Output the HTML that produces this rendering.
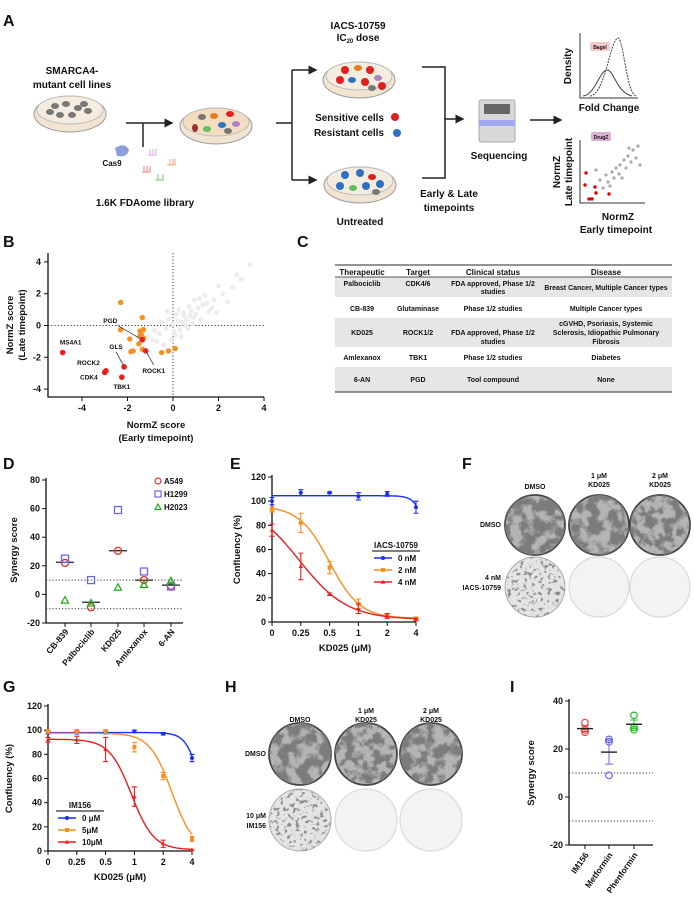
<!DOCTYPE html>
<html><head><meta charset="utf-8"><style>
html,body{margin:0;padding:0;background:#fff;}
svg{display:block;font-family:"Liberation Sans",Arial,sans-serif;}
text{font-weight:bold;fill:#111;}
</style></head><body>
<svg id="fig" width="694" height="899" viewBox="0 0 694 899" xmlns="http://www.w3.org/2000/svg">
<defs>
<filter id="dense" x="0" y="0" width="1" height="1"><feTurbulence type="fractalNoise" baseFrequency="0.09" numOctaves="3" seed="2"/><feColorMatrix type="matrix" values="0 0 0 0 0.2 0 0 0 0 0.2 0 0 0 0 0.2 5 0 0 0 -1.9"/></filter>
<filter id="dense2" x="0" y="0" width="1" height="1"><feTurbulence type="fractalNoise" baseFrequency="0.11" numOctaves="3" seed="7"/><feColorMatrix type="matrix" values="0 0 0 0 0.2 0 0 0 0 0.2 0 0 0 0 0.2 5 0 0 0 -2.1"/></filter>
<filter id="sparse" x="0" y="0" width="1" height="1"><feTurbulence type="fractalNoise" baseFrequency="0.25" numOctaves="2" seed="5"/><feColorMatrix type="matrix" values="0 0 0 0 0.25 0 0 0 0 0.25 0 0 0 0 0.25 6 0 0 0 -3.3"/></filter>
<marker id="arr" markerWidth="6" markerHeight="6" refX="5" refY="3" orient="auto"><path d="M0,0 L6,3 L0,6 z" fill="#222"/></marker>
</defs>

<g font-size="16">
<text x="3" y="26">A</text><text x="3" y="247">B</text><text x="297" y="247">C</text>
<text x="3" y="469">D</text><text x="230" y="469">E</text><text x="462" y="469">F</text>
<text x="3" y="692">G</text><text x="225" y="692">H</text><text x="510" y="692">I</text>
</g>

<g id="panelA" font-size="10">
<text x="72" y="74" text-anchor="middle">SMARCA4-</text>
<text x="72" y="88" text-anchor="middle">mutant cell lines</text>
<g><ellipse cx="70" cy="114" rx="36" ry="18" fill="#f1e4d2" stroke="#999"/><ellipse cx="70" cy="110" rx="33" ry="14" fill="#f5ece0" stroke="#bbb"/>
<g fill="#777"><ellipse cx="55" cy="106" rx="4" ry="3"/><ellipse cx="66" cy="104" rx="4" ry="3"/><ellipse cx="78" cy="108" rx="4" ry="3"/><ellipse cx="88" cy="111" rx="4" ry="3"/><ellipse cx="60" cy="115" rx="4" ry="3"/><ellipse cx="72" cy="115" rx="4" ry="3"/><ellipse cx="84" cy="104" rx="4" ry="3"/><ellipse cx="50" cy="112" rx="4" ry="3"/></g></g>
<line x1="126" y1="123" x2="172" y2="123" stroke="#222" stroke-width="1.5" marker-end="url(#arr)"/>
<line x1="143" y1="123" x2="143" y2="147" stroke="#222" stroke-width="1.5"/>
<path d="M115,148 q10,-6 14,2 q-2,8 -12,6 z" fill="#8c9fd6"/>
<text x="112" y="166" text-anchor="middle" font-size="8">Cas9</text>
<g fill="none" stroke-width="1"><path d="M148,155 h8 v-6 M150,155 v-6 M153,155 v-6" stroke="#d9a0e0"/><path d="M142,172 h8 v-6 M144,172 v-6 M147,172 v-6" stroke="#f08080"/><path d="M167,165 h8 v-6 M170,165 v-6 M173,165 v-6" stroke="#f0a080"/><path d="M155,180 h8 v-6 M158,180 v-6" stroke="#70c070"/></g>
<text x="145" y="206" text-anchor="middle" font-size="10" font-weight="normal">1.6K FDAome library</text>
<g><ellipse cx="216" cy="126" rx="36" ry="18" fill="#f1e4d2" stroke="#999"/><ellipse cx="216" cy="122" rx="33" ry="14" fill="#f3dcc0" stroke="#bbb"/>
<ellipse cx="202" cy="117" rx="4" ry="3" fill="#777"/><ellipse cx="214" cy="116" rx="4" ry="3" fill="#e08020"/><ellipse cx="230" cy="114" rx="4" ry="3" fill="#e02020"/><ellipse cx="195" cy="128" rx="3" ry="4" fill="#a03030"/><ellipse cx="207" cy="129" rx="4" ry="3" fill="#60c060"/><ellipse cx="222" cy="125" rx="4" ry="3" fill="#3070c0"/><ellipse cx="236" cy="124" rx="4" ry="3" fill="#b080c0"/><ellipse cx="228" cy="131" rx="4" ry="3" fill="#777"/></g>
<line x1="276" y1="123" x2="292" y2="123" stroke="#222" stroke-width="1.5"/>
<line x1="292" y1="70" x2="292" y2="180" stroke="#222" stroke-width="1.5"/>
<line x1="292" y1="70" x2="316" y2="70" stroke="#222" stroke-width="1.5" marker-end="url(#arr)"/>
<line x1="292" y1="180" x2="316" y2="180" stroke="#222" stroke-width="1.5" marker-end="url(#arr)"/>
<text x="358" y="29" text-anchor="middle" font-weight="normal" font-size="10">IACS-10759</text>
<text x="358" y="41" text-anchor="middle" font-weight="normal" font-size="10">IC<tspan font-size="6" dy="2">20</tspan><tspan dy="-2"> dose</tspan></text>
<g><ellipse cx="359" cy="80" rx="36" ry="18" fill="#f1e4d2" stroke="#999"/><ellipse cx="359" cy="76" rx="33" ry="14" fill="#f5ece0" stroke="#bbb"/>
<ellipse cx="345" cy="70" rx="4" ry="4" fill="#e02020"/><ellipse cx="358" cy="68" rx="4" ry="3" fill="#e08020"/><ellipse cx="370" cy="70" rx="4" ry="4" fill="#e02020"/><ellipse cx="340" cy="80" rx="4" ry="4" fill="#e02020"/><ellipse cx="352" cy="80" rx="4" ry="3" fill="#3070c0"/><ellipse cx="365" cy="82" rx="4" ry="4" fill="#e02020"/><ellipse cx="378" cy="78" rx="4" ry="3" fill="#b080c0"/><ellipse cx="382" cy="86" rx="4" ry="4" fill="#e02020"/><ellipse cx="372" cy="88" rx="4" ry="3" fill="#777"/></g>
<text x="346" y="121" text-anchor="end" font-size="10" font-weight="normal" transform="translate(38,0)">Sensitive cells</text>
<text x="346" y="136" text-anchor="end" font-size="10" font-weight="normal" transform="translate(38,0)">Resistant cells</text>
<circle cx="395" cy="117" r="4" fill="#e02020"/><circle cx="397" cy="133" r="4" fill="#3070c0"/>
<g><ellipse cx="360" cy="185" rx="36" ry="18" fill="#f1e4d2" stroke="#999"/><ellipse cx="360" cy="181" rx="33" ry="14" fill="#f5ece0" stroke="#bbb"/>
<ellipse cx="345" cy="175" rx="4" ry="4" fill="#3070c0"/><ellipse cx="360" cy="173" rx="4" ry="4" fill="#3070c0"/><ellipse cx="372" cy="177" rx="4" ry="3" fill="#e02020"/><ellipse cx="340" cy="186" rx="4" ry="4" fill="#3070c0"/><ellipse cx="353" cy="188" rx="4" ry="3" fill="#60c060"/><ellipse cx="366" cy="186" rx="4" ry="4" fill="#3070c0"/><ellipse cx="380" cy="184" rx="4" ry="4" fill="#3070c0"/><ellipse cx="376" cy="192" rx="4" ry="3" fill="#777"/></g>
<text x="360" y="225" text-anchor="middle" font-size="10" font-weight="normal">Untreated</text>
<path d="M422,67 H445 V178 H422" fill="none" stroke="#222" stroke-width="1.5"/>
<line x1="445" y1="119" x2="463" y2="119" stroke="#222" stroke-width="1.5" marker-end="url(#arr)"/>
<text x="449" y="197" text-anchor="middle" font-size="10" font-weight="normal">Early &amp; Late</text>
<text x="449" y="211" text-anchor="middle" font-size="10" font-weight="normal">timepoints</text>
<g><rect x="479" y="100" width="36" height="42" rx="2" fill="#d8d8d8" stroke="#aaa"/><rect x="484" y="104" width="26" height="10" fill="#666"/><rect x="479" y="120" width="36" height="6" fill="#a0a8f0"/></g>
<text x="499" y="159" text-anchor="middle" font-size="10" font-weight="normal">Sequencing</text>
<line x1="530" y1="120" x2="561" y2="120" stroke="#222" stroke-width="1.5" marker-end="url(#arr)"/>
<g>
<path d="M580,33 V98 H638" fill="none" stroke="#333"/>
<path d="M583,96 C595,95 600,70 607,70 C614,70 616,92 632,96" fill="none" stroke="#444"/>
<path d="M590,96 C605,95 610,40 618,38 C624,40 626,92 636,96" fill="none" stroke="#444" stroke-dasharray="2,1"/>
<rect x="590" y="42" width="20" height="9" rx="2" fill="#f4c8c8"/><text x="600" y="49" text-anchor="middle" font-size="5" font-weight="normal">Bagel</text>
<text transform="translate(571,66) rotate(-90)" text-anchor="middle" font-size="10">Density</text>
<text x="609" y="111" text-anchor="middle" font-size="10">Fold Change</text></g>
<g>
<path d="M580,140 V203 H645" fill="none" stroke="#333"/>
<rect x="591" y="132" width="20" height="9" rx="2" fill="#d8b0d8"/><text x="601" y="139" text-anchor="middle" font-size="5" font-weight="normal">DrugZ</text>
<g fill="#aaa"><circle cx="600" cy="180" r="1.6"/><circle cx="606" cy="175" r="1.6"/><circle cx="612" cy="172" r="1.6"/><circle cx="616" cy="168" r="1.6"/><circle cx="620" cy="165" r="1.6"/><circle cx="624" cy="160" r="1.6"/><circle cx="628" cy="156" r="1.6"/><circle cx="633" cy="150" r="1.6"/><circle cx="638" cy="146" r="1.6"/><circle cx="608" cy="182" r="1.6"/><circle cx="614" cy="178" r="1.6"/><circle cx="619" cy="174" r="1.6"/><circle cx="626" cy="168" r="1.6"/><circle cx="631" cy="162" r="1.6"/><circle cx="636" cy="158" r="1.6"/><circle cx="603" cy="188" r="1.6"/><circle cx="610" cy="186" r="1.6"/><circle cx="622" cy="178" r="1.6"/><circle cx="640" cy="165" r="1.6"/><circle cx="596" cy="170" r="1.6"/><circle cx="629" cy="148" r="1.6"/></g>
<g fill="#e00000"><circle cx="586" cy="173" r="1.7"/><circle cx="585" cy="185" r="1.7"/><circle cx="595" cy="187" r="1.7"/><circle cx="596" cy="193" r="1.7"/><circle cx="589" cy="199" r="1.7"/><circle cx="592" cy="199" r="1.7"/><circle cx="609" cy="194" r="1.7"/></g>
<text transform="translate(560,172) rotate(-90)" text-anchor="middle" font-size="10">NormZ</text>
<text transform="translate(572,172) rotate(-90)" text-anchor="middle" font-size="10" font-weight="normal">Late timepoint</text>
<text x="618" y="220" text-anchor="middle" font-size="10">NormZ</text>
<text x="616" y="233" text-anchor="middle" font-size="10" font-weight="normal">Early timepoint</text></g>
</g>

<g id="panelC" font-size="7" text-anchor="middle">
<rect x="335" y="277" width="337" height="20" fill="#e6e6e6"/>
<rect x="335" y="318" width="337" height="29" fill="#e6e6e6"/>
<rect x="335" y="367" width="337" height="25" fill="#e6e6e6"/>
<line x1="335" y1="265" x2="672" y2="265" stroke="#555" stroke-width="1.2"/>
<line x1="335" y1="277" x2="672" y2="277" stroke="#555" stroke-width="1"/>
<line x1="335" y1="392" x2="672" y2="392" stroke="#555" stroke-width="1.2"/>
<g font-size="8"><text x="362" y="275">Therapeutic</text><text x="418" y="275">Target</text><text x="493" y="275">Clinical status</text><text x="606" y="275">Disease</text></g>
<g fill="#333"><text x="362" y="286">Palbociclib</text><text x="418" y="286">CDK4/6</text><text x="493" y="286">FDA approved, Phase 1/2</text><text x="493" y="294">studies</text><text x="606" y="290">Breast Cancer, Multiple Cancer types</text>
<text x="362" y="311">CB-839</text><text x="418" y="311">Glutaminase</text><text x="493" y="311">Phase 1/2 studies</text><text x="606" y="311">Multiple Cancer types</text>
<text x="362" y="335">KD025</text><text x="418" y="335">ROCK1/2</text><text x="493" y="335">FDA approved, Phase 1/2</text><text x="493" y="344">studies</text><text x="606" y="326">cGVHD, Psoriasis, Systemic</text><text x="606" y="335">Sclerosis, Idiopathic Pulmonary</text><text x="606" y="344">Fibrosis</text>
<text x="362" y="360">Amlexanox</text><text x="418" y="360">TBK1</text><text x="493" y="360">Phase 1/2 studies</text><text x="606" y="360">Diabetes</text>
<text x="362" y="382">6-AN</text><text x="418" y="382">PGD</text><text x="493" y="382">Tool compound</text><text x="606" y="382">None</text></g>
</g>

<g id="panelF" font-size="7">
<text x="535" y="489" text-anchor="middle">DMSO</text>
<text x="599" y="478" text-anchor="middle">1 μM</text><text x="599" y="487" text-anchor="middle">KD025</text>
<text x="660" y="478" text-anchor="middle">2 μM</text><text x="660" y="487" text-anchor="middle">KD025</text>
<text x="501" y="527" text-anchor="end">DMSO</text>
<text x="501" y="580" text-anchor="end">4 nM</text><text x="501" y="590" text-anchor="end">IACS-10759</text>
</g>
<g id="panelH" font-size="7">
<text x="300" y="722" text-anchor="middle">DMSO</text>
<text x="366" y="713" text-anchor="middle">1 μM</text><text x="366" y="722" text-anchor="middle">KD025</text>
<text x="431" y="713" text-anchor="middle">2 μM</text><text x="431" y="722" text-anchor="middle">KD025</text>
<text x="266" y="756" text-anchor="end">DMSO</text>
<text x="266" y="818" text-anchor="end">10 μM</text><text x="266" y="828" text-anchor="end">IM156</text>
</g>

<g id="charts"></g>
</svg>
<script>
// ---------- Panel B data ----------
const bOrangeX = [-2.3,-1.35,-2.3,-1.3,-1.45,-1.4,-1.45,-1.3,-1.9,-1.5,-1.75,-1.85,-1.35,-0.5,-0.2,0.1];
const bOrangeY = [1.45,0.5,-0.27,-0.25,-0.35,-0.55,-0.65,-0.8,-0.85,-1.15,-1.6,-1.65,-1.5,-1.7,-1.6,-1.45];
const bHitNames = ['MS4A1','ROCK2','CDK4','GLS','TBK1','PGD','ROCK1'];
const bHitX = [-4.85,-2.95,-3.0,-2.15,-2.25,-1.35,-1.2];
const bHitY = [-1.7,-2.85,-2.95,-2.6,-3.25,-0.9,-1.6];
const bBgX = [0.2,0.5,-0.3,0.8,1.1,-0.6,0.0,0.4,1.5,1.8,2.2,-0.9,0.6,1.0,-0.2,0.3,0.9,1.3,2.6,3.0,3.4,-1.1,-0.5,0.1,0.7,1.2,1.6,2.0,-0.8,0.45,-0.1,0.25,0.65,1.4,2.4,-0.4,0.15,0.55,0.95,1.7,2.8,-1.3,-0.7,0.35,0.85,1.15,0.05,-0.25,0.75,1.9];
const bBgY = [0.3,0.6,-0.2,0.9,1.1,-0.5,0.1,0.2,1.4,1.6,2.0,-0.9,0.3,0.7,0.4,-0.3,0.5,1.3,2.4,2.9,3.8,-0.7,0.2,-0.6,1.2,0.4,0.9,2.5,-0.3,0.8,-0.9,1.0,-0.2,1.9,1.5,-1.2,0.7,0.0,1.6,1.1,3.2,-1.4,-1.0,-0.7,0.1,1.7,-0.4,0.9,0.6,0.8];
const bTicks = [-4,-2,0,2,4];

// ---------- Panel D data ----------
const dCats = ['CB-839','Palbociclib','KD025','Amlexanox','6-AN'];
const dA549 = [22,-9,30.5,10,6];
const dH1299 = [25,10,59,16,5.5];
const dH2023 = [-4,-6,5,7,9.5];
const dMedian = [22.5,-5.5,30.5,10,6.5];
const dTicks = [-20,0,20,40,60,80];

// ---------- Panel E data ----------
const doseLabels = ['0','0.25','0.5','1','2','4'];
const eBlue = [100,107,107,104,106,95];
const eBlueErr = [3,2.5,0.5,3,2,5];
const eOrange = [93,82,45,15,5,3];
const eOrangeErr = [2,8,5,4,1.5,1];
const eRed = [76,46,23,11,5,2];
const eRedErr = [5,11,1,4,2,1];
const eFitTop = [104.5,96,100];
const eFitBottom = [0,3,2];
const eFitMid = [5.5,2.0,0.95];
const eFitHill = [5,1.9,1.2];
const eLegend = ['0 nM','2 nM','4 nM'];

// ---------- Panel G data ----------
const gBlue = [98,98,98,99,97,77];
const gBlueErr = [1,1,1,1,1,3];
const gOrange = [99,99,99,86,62,10];
const gOrangeErr = [1.5,1.5,1.5,4,3,2];
const gRed = [92,92,84,45,6,1];
const gRedErr = [2,3,10,8,3,0];
const gFitTop = [98,97.5,92.5];
const gFitBottom = [0,0,1];
const gFitMid = [5.35,4.3,2.9];
const gFitHill = [4,2.6,2.6];
const gLegend = ['0 μM','5μM','10μM'];
const confTicks = [0,20,40,60,80,100,120];

// ---------- Panel I data ----------
const iCats = ['IM156','Metformin','Phenformin'];
const iRep1 = [31,24,34];
const iRep2 = [27,23,28];
const iRep3 = [28,9,29];
const iMean = [28.5,18.7,30.3];
const iSem = [1.2,5,1.8];
const iTicks = [-20,0,20,40];

const NS='http://www.w3.org/2000/svg';
const root=document.getElementById('charts');
function mk(tag,attrs,parent){const e=document.createElementNS(NS,tag);for(const k in attrs)e.setAttribute(k,attrs[k]);(parent||root).appendChild(e);return e;}
function txt(x,y,s,attrs,parent){const e=mk('text',Object.assign({x:x,y:y},attrs||{}),parent);e.textContent=s;return e;}
function group(name){const g=mk('g',{});return g;}

// ===== Panel B =====
(function(){
 const g=group('normz-scatter');
 const X=v=>173+v*22.75, Y=v=>325.5-v*15.9;
 mk('path',{d:'M48,253 V397 H264',fill:'none',stroke:'#111','stroke-width':1.3},g);
 mk('line',{x1:X(0),y1:253,x2:X(0),y2:397,stroke:'#333','stroke-dasharray':'1.2,2'},g);
 mk('line',{x1:48,y1:Y(0),x2:264,y2:Y(0),stroke:'#333','stroke-dasharray':'1.2,2'},g);
 bTicks.forEach(t=>{
  mk('line',{x1:X(t),y1:397,x2:X(t),y2:401,stroke:'#111'},g);
  txt(X(t),411,String(t),{'text-anchor':'middle','font-size':9},g);
  mk('line',{x1:44,y1:Y(t),x2:48,y2:Y(t),stroke:'#111'},g);
  txt(41,Y(t)+3,String(t),{'text-anchor':'end','font-size':9},g);
 });
 txt(156,428,'NormZ score',{'text-anchor':'middle','font-size':9.5},g);
 txt(156,441,'(Early timepoint)',{'text-anchor':'middle','font-size':9.5},g);
 txt(0,0,'NormZ score',{'text-anchor':'middle','font-size':9.5,transform:'translate(13,325) rotate(-90)'},g);
 txt(0,0,'(Late timepoint)',{'text-anchor':'middle','font-size':9.5,transform:'translate(25,325) rotate(-90)'},g);
 bBgX.forEach((v,i)=>{const c=mk('circle',{cx:X(v),cy:Y(bBgY[i]),r:2.4,fill:'#ececec'},g);
  });
 bOrangeX.forEach((v,i)=>{const c=mk('circle',{cx:X(v),cy:Y(bOrangeY[i]),r:2.7,fill:'#f7901e'},g);
  });
 const labOff={MS4A1:[8,-8,'middle'],ROCK2:[-6,-6,'end'],CDK4:[-7,7,'end'],GLS:[-8,-18,'middle'],TBK1:[0,12,'middle'],PGD:[-32,-17,'middle'],ROCK1:[8,22,'middle']};
 bHitX.forEach((v,i)=>{const cx=X(v),cy=Y(bHitY[i]);const nm=bHitNames[i];const o=labOff[nm];
  if(nm==='GLS'||nm==='PGD'||nm==='ROCK1'){mk('line',{x1:cx,y1:cy,x2:cx+o[0]+(nm==='PGD'?8:0),y2:cy+o[1]+(nm==='ROCK1'?-8:3),stroke:'#222','stroke-width':0.7},g);}
  const c=mk('circle',{cx:cx,cy:cy,r:2.8,fill:'#ee1c1c'},g);
  
  const t=txt(cx+o[0],cy+o[1],nm,{'text-anchor':o[2],'font-size':6.5},g);
  
 });
})();

// ===== Panel D =====
(function(){
 const g=group('synergy-scatter-d');
 const Y=v=>480+(80-v)*1.43; const cx=[65,91,118,144,171];
 mk('path',{d:'M46,478 V623 H183',fill:'none',stroke:'#111','stroke-width':1.3},g);
 dTicks.forEach(t=>{mk('line',{x1:42,y1:Y(t),x2:46,y2:Y(t),stroke:'#111'},g);txt(40,Y(t)+3,String(t),{'text-anchor':'end','font-size':9},g);});
 [10,-10].forEach(t=>mk('line',{x1:46,y1:Y(t),x2:183,y2:Y(t),stroke:'#333','stroke-dasharray':'1.2,2'},g));
 txt(0,0,'Synergy score',{'text-anchor':'middle','font-size':9.5,transform:'translate(17,550) rotate(-90)'},g);
 dCats.forEach((c,i)=>{mk('line',{x1:cx[i],y1:623,x2:cx[i],y2:627,stroke:'#111'},g);
  const t=txt(0,0,c,{'text-anchor':'end','font-size':8.5,transform:`translate(${cx[i]+4},632) rotate(-50)`},g);
  
  const m=mk('line',{x1:cx[i]-9,y1:Y(dMedian[i]),x2:cx[i]+9,y2:Y(dMedian[i]),stroke:'#222','stroke-width':1.3},g);
  
  const a=mk('circle',{cx:cx[i],cy:Y(dA549[i]),r:3.5,fill:'none',stroke:'#e03030','stroke-width':1.3},g);
  
  const h=mk('rect',{x:cx[i]-3.5,y:Y(dH1299[i])-3.5,width:7,height:7,fill:'none',stroke:'#6868ee','stroke-width':1.3},g);
  
  const y=Y(dH2023[i]);
  const tr=mk('path',{d:`M${cx[i]},${y-3.5} L${cx[i]+3.5},${y+3} L${cx[i]-3.5},${y+3} Z`,fill:'none',stroke:'#20b020','stroke-width':1.3},g);
  
 });
 const lg=group('legend-d');
 mk('circle',{cx:158,cy:481,r:3,fill:'none',stroke:'#e03030','stroke-width':1.2},lg);txt(164,484,'A549',{'font-size':8},lg);
 mk('rect',{x:155,y:491,width:6,height:6,fill:'none',stroke:'#6868ee','stroke-width':1.2},lg);txt(164,497,'H1299',{'font-size':8},lg);
 mk('path',{d:'M158,504 L161,509.5 L155,509.5 Z',fill:'none',stroke:'#20b020','stroke-width':1.2},lg);txt(164,510,'H2023',{'font-size':8},lg);
})();

function doseChart(name,x0,yTop,yZero,series,errs,tops,bots,mids,hills,legendLabels,legTitle,legX,legY,titleX,yTitleX){
 const g=group(name);
 const step=28.8; const X=p=>x0+p*step; const Y=v=>yZero-(v/120)*(yZero-yTop);
 mk('path',{d:`M${x0},${yTop-2} V${yZero} H${X(5)}`,fill:'none',stroke:'#111','stroke-width':1.3},g);
 confTicks.forEach(t=>{mk('line',{x1:x0-4,y1:Y(t),x2:x0,y2:Y(t),stroke:'#111'},g);txt(x0-6,Y(t)+3,String(t),{'text-anchor':'end','font-size':9},g);});
 doseLabels.forEach((d,i)=>{mk('line',{x1:X(i),y1:yZero,x2:X(i),y2:yZero+4,stroke:'#111'},g);txt(X(i),yZero+14,d,{'text-anchor':'middle','font-size':9},g);});
 txt(titleX,yZero+29,'KD025 (μM)',{'text-anchor':'middle','font-size':9.5},g);
 txt(0,0,'Confluency (%)',{'text-anchor':'middle','font-size':9.5,transform:`translate(${yTitleX},${(yTop+yZero)/2}) rotate(-90)`},g);
 const cols=['#1a2ff0','#f7901e','#ee1c1c'];
 series.forEach((s,k)=>{
  let d='';for(let p=0;p<=5.0001;p+=0.05){const v=bots[k]+(tops[k]-bots[k])/(1+Math.exp(hills[k]*(p-mids[k])));d+=(p===0?'M':'L')+X(p).toFixed(1)+','+Y(v).toFixed(1);}
  const c=mk('path',{d:d,fill:'none',stroke:cols[k],'stroke-width':1.4},g);
  
  s.forEach((v,i)=>{const e=errs[k][i];
   const eb=mk('path',{d:`M${X(i)},${Y(v+e)} V${Y(v-e)} M${X(i)-2.5},${Y(v+e)} h5 M${X(i)-2.5},${Y(v-e)} h5`,stroke:cols[k],'stroke-width':1.1,fill:'none'},g);
   
   let m;
   if(k===0)m=mk('circle',{cx:X(i),cy:Y(v),r:2,fill:cols[k]},g);
   else if(k===1)m=mk('rect',{x:X(i)-2,y:Y(v)-2,width:4,height:4,fill:cols[k]},g);
   else m=mk('path',{d:`M${X(i)},${Y(v)-2.2} l2.2,3.8 h-4.4 z`,fill:cols[k]},g);
   
  });
 });
 const lg=group(name+'-legend');
 txt(legX+22,legY,legTitle,{'text-anchor':'middle','font-size':8},lg);
 mk('line',{x1:legX-2,y1:legY+3,x2:legX+46,y2:legY+3,stroke:'#333','stroke-width':1.2},lg);
 legendLabels.forEach((l,k)=>{const y=legY+13+k*12;
  mk('line',{x1:legX,y1:y-3,x2:legX+18,y2:y-3,stroke:cols[k],'stroke-width':1.4},lg);
  if(k===0)mk('circle',{cx:legX+9,cy:y-3,r:2,fill:cols[k]},lg);
  else if(k===1)mk('rect',{x:legX+7,y:y-5,width:4,height:4,fill:cols[k]},lg);
  else mk('path',{d:`M${legX+9},${y-5.2} l2.2,3.8 h-4.4 z`,fill:cols[k]},lg);
  txt(legX+24,y,l,{'font-size':8},lg);
 });
}
doseChart('dose-response-e',272,477,622,[eBlue,eOrange,eRed],[eBlueErr,eOrangeErr,eRedErr],eFitTop,eFitBottom,eFitMid,eFitHill,eLegend,'IACS-10759',374,548,345,240);
doseChart('dose-response-g',48,706,851,[gBlue,gOrange,gRed],[gBlueErr,gOrangeErr,gRedErr],gFitTop,gFitBottom,gFitMid,gFitHill,gLegend,'IM156',58,808,120,12);

(function(){
 const g=group('synergy-scatter-i');
 const Y=v=>701+(40-v)*2.4; const cx=[585,609,634];
 mk('path',{d:'M569,699 V845 H653',fill:'none',stroke:'#111','stroke-width':1.3},g);
 iTicks.forEach(t=>{mk('line',{x1:565,y1:Y(t),x2:569,y2:Y(t),stroke:'#111'},g);txt(563,Y(t)+3,String(t),{'text-anchor':'end','font-size':9},g);});
 [10,-10].forEach(t=>mk('line',{x1:569,y1:Y(t),x2:653,y2:Y(t),stroke:'#333','stroke-dasharray':'1.2,2'},g));
 txt(0,0,'Synergy score',{'text-anchor':'middle','font-size':9.5,transform:'translate(534,773) rotate(-90)'},g);
 const cols=['#ee4040','#6868ee','#20c020'];
 iCats.forEach((c,i)=>{mk('line',{x1:cx[i],y1:845,x2:cx[i],y2:849,stroke:'#111'},g);
  const t=txt(0,0,c,{'text-anchor':'end','font-size':8.5,transform:`translate(${cx[i]+4},855) rotate(-55)`},g);
  
  [iRep1[i],iRep2[i],iRep3[i]].forEach(v=>{const p=mk('circle',{cx:cx[i],cy:Y(v),r:3.3,fill:'none',stroke:cols[i],'stroke-width':1.2},g);
   });
  const e=mk('path',{d:`M${cx[i]},${Y(iMean[i]+iSem[i])} V${Y(iMean[i]-iSem[i])} M${cx[i]-4},${Y(iMean[i]+iSem[i])} h8 M${cx[i]-4},${Y(iMean[i]-iSem[i])} h8`,stroke:cols[i],fill:'none','stroke-width':1},g);
  
  const m=mk('line',{x1:cx[i]-8,y1:Y(iMean[i]),x2:cx[i]+8,y2:Y(iMean[i]),stroke:'#222','stroke-width':1.4},g);
  
 });
})();

function plate(cx,cy,r,kind,name){
 const g=group(name);
 const id='clip'+Math.round(cx)+'_'+Math.round(cy);
 const cp=mk('clipPath',{id:id},g);mk('circle',{cx:cx,cy:cy,r:r},cp);
 if(kind==='dense'||kind==='dense2'){
  mk('circle',{cx:cx,cy:cy,r:r,fill:'#b4b4b4',stroke:'#444','stroke-width':1.8},g);
  mk('rect',{x:cx-r,y:cy-r,width:2*r,height:2*r,filter:`url(#${kind})`,'clip-path':`url(#${id})`},g);
 }else if(kind==='sparse'){
  mk('circle',{cx:cx,cy:cy,r:r,fill:'#e4e4e4',stroke:'#aaa','stroke-width':1},g);
  mk('rect',{x:cx-r,y:cy-r,width:2*r,height:2*r,filter:'url(#sparse)','clip-path':`url(#${id})`},g);
 }else{
  mk('circle',{cx:cx,cy:cy,r:r,fill:'#f3f3f3',stroke:'#dadada','stroke-width':1.2},g);
 }
}
plate(535,525,30,'dense','plate-f-dmso-dmso');
plate(599,525,30,'dense','plate-f-dmso-kd1');
plate(660,525,30,'dense2','plate-f-dmso-kd2');
plate(535,587,30,'sparse','plate-f-iacs-dmso');
plate(599,587,30,'faint','plate-f-iacs-kd1');
plate(660,587,30,'faint','plate-f-iacs-kd2');
plate(300,754,31,'dense','plate-h-dmso-dmso');
plate(366,754,31,'dense2','plate-h-dmso-kd1');
plate(431,754,31,'dense','plate-h-dmso-kd2');
plate(300,820,31,'sparse','plate-h-im156-dmso');
plate(366,820,31,'faint','plate-h-im156-kd1');
plate(431,820,31,'faint','plate-h-im156-kd2');
</script>
</body></html>
